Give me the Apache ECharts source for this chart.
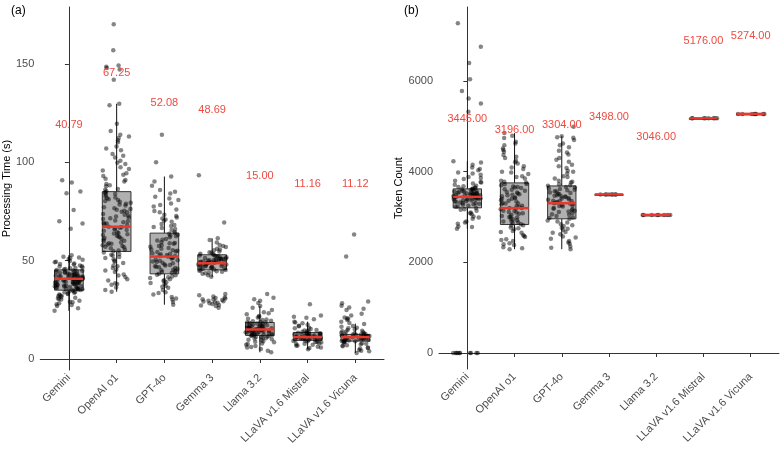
<!DOCTYPE html>
<html><head><meta charset="utf-8">
<script src="https://cdn.jsdelivr.net/npm/echarts@6/dist/echarts.min.js"></script>
<style>html,body{margin:0;padding:0;background:#fff}#c{width:780px;height:449px}</style>
</head><body><div id="c"></div>
<script>
// ---------- DATA ----------
const categories = ['Gemini','OpenAI o1','GPT-4o','Gemma 3','Llama 3.2','LLaVA v1.6 Mistral','LLaVA v1.6 Vicuna'];

// Panel (a): processing time (s) — box statistics
const timeLo  = [24.5, 34.2, 27.6, 41.8, 3.4, 4.9, 3.1];
const timeQ1  = [35.0, 54.7, 43.3, 45.3, 12.0, 9.5, 9.1];
const timeMed = [40.79, 67.25, 52.08, 48.69, 15.00, 11.16, 11.12];
const timeQ3  = [45.3, 85.1, 64.0, 53.0, 18.6, 13.5, 12.5];
const timeHi  = [52.8, 129.8, 92.8, 61.4, 26.9, 19.0, 18.0];
const timeTicks = [0, 50, 100, 150];

const timeGemini = [24.5,25.8,26.9,27.4,28.3,28.9,29.6,30.2,30.8,31.5,31.9,32.4,32.8,33.3,33.7,34.1,34.6,34.9,35.3,35.6,35.9,36.2,36.5,36.8,37.1,37.4,37.6,37.9,38.2,38.4,38.7,38.9,39.2,39.4,39.7,39.9,40.2,40.4,40.6,40.8,41.0,41.3,41.5,41.8,42.0,42.3,42.5,42.8,43.1,43.4,43.7,44.0,44.3,44.6,44.9,45.3,45.7,46.1,46.5,47.0,47.5,48.0,48.6,49.2,49.8,50.5,51.2,52.0,52.8,66.2,68.9,70.1,75.8,84.3,85.2,89.8,90.9,
  30.5,31.2,32.1,33.0,33.9,34.4,35.1,35.5,35.8,36.0,36.3,36.7,37.0,37.3,37.7,38.0,38.3,38.6,38.8,39.1,39.3,39.6,39.8,40.1,40.3,40.5,40.7,40.9,41.1,41.4,41.6,41.9,42.1,42.4,42.7,42.9,43.2,43.6,44.1,44.5,45.0,45.5,46.3,47.2,48.3,49.5,50.8,51.6,27.8,29.1];
const timeOpenAI = [34.2,35.1,36.4,37.8,38.5,39.9,40.6,41.7,43.0,44.2,45.5,46.3,47.6,48.8,49.5,50.7,51.9,52.6,53.4,54.1,54.8,55.6,56.3,57.1,57.8,58.6,59.3,60.1,60.8,61.5,62.3,63.0,63.8,64.5,65.2,66.0,66.7,67.3,68.1,68.9,69.6,70.4,71.2,72.0,72.9,73.7,74.6,75.4,76.3,77.2,78.1,79.0,79.9,80.8,81.7,82.6,83.5,84.4,85.3,86.5,87.8,89.0,90.3,91.6,93.0,94.4,95.9,97.5,99.1,100.8,102.5,104.3,106.2,108.1,110.2,112.4,114.0,116.0,119.6,129.0,129.8,142.0,147.2,148.0,148.6,149.3,157.0,170.2,
  38.1,42.4,45.0,47.1,49.9,51.3,53.0,55.2,56.8,58.2,59.9,61.1,62.7,64.1,65.6,67.0,68.5,70.0,71.6,73.3,74.9,76.7,78.5,80.3,82.1,83.9,86.1,88.4,91.0,93.7,96.6,99.8,103.4,107.1,111.3,113.2,58.9,63.4,66.3,69.2,72.4,75.9,79.4,81.2,84.8,57.4,61.9];
const timeGPT4o = [27.6,29.0,30.2,31.5,32.8,34.0,35.1,36.2,37.3,38.2,39.0,39.8,40.5,41.2,41.9,42.6,43.3,43.9,44.5,45.1,45.7,46.3,46.9,47.5,48.1,48.7,49.3,49.9,50.5,51.1,51.7,52.1,52.6,53.2,53.8,54.4,55.0,55.7,56.4,57.1,57.8,58.6,59.4,60.2,61.0,61.9,62.8,63.7,64.6,65.6,66.6,67.6,68.7,69.8,70.9,72.0,73.3,74.6,76.0,77.5,79.1,80.8,82.5,84.2,85.0,86.0,88.1,90.2,92.8,100.1,114.0,
  30.8,33.5,36.7,38.6,40.1,41.6,42.9,44.2,45.4,46.6,47.8,49.0,50.2,51.4,52.4,53.5,54.7,56.0,57.4,58.9,60.6,62.4,64.1,66.1,68.2,70.3,72.7,75.3,78.3,81.6,44.8,47.2,49.6,52.9,55.3,59.0,63.2,67.1,71.5];
const timeGemma = [26.1,26.9,27.5,28.0,28.4,28.8,29.2,29.6,30.0,30.4,30.8,31.3,31.8,32.4,33.1,41.8,42.6,43.3,43.9,44.4,44.9,45.3,45.7,46.1,46.5,46.9,47.3,47.6,47.9,48.2,48.5,48.7,49.0,49.3,49.6,49.9,50.2,50.5,50.8,51.1,51.4,51.8,52.2,52.6,53.0,53.5,54.0,54.6,55.3,56.1,57.0,58.0,59.2,60.5,61.4,69.4,93.4,
  27.2,28.6,29.4,30.2,31.0,43.6,44.6,45.5,46.3,47.1,47.7,48.1,48.4,48.9,49.1,49.5,49.8,50.1,50.4,50.7,51.0,51.6,52.0,52.4,53.3,54.3,55.7,57.5,45.1,46.7,48.0,49.4,50.9];
const timeLlama = [3.4,4.2,5.1,5.9,6.6,7.3,7.9,8.5,9.0,9.5,10.0,10.4,10.8,11.2,11.6,12.0,12.3,12.6,12.9,13.2,13.5,13.8,14.1,14.4,14.7,15.0,15.3,15.6,15.9,16.2,16.5,16.8,17.1,17.5,17.9,18.3,18.7,19.2,19.8,20.4,21.1,21.9,22.8,23.8,24.9,26.0,26.9,28.5,29.6,30.4,31.2,33.0,
  6.1,7.6,8.8,9.8,10.6,11.0,11.4,11.8,12.2,12.5,12.8,13.1,13.4,13.7,14.0,14.3,14.6,14.9,15.2,15.5,15.8,16.1,16.4,16.7,17.0,17.3,17.7,18.1,18.5,19.0,19.5,20.1,21.5,23.3,12.1,13.6,14.9,16.0];
const timeMistral = [4.9,5.6,6.2,6.7,7.2,7.6,8.0,8.4,8.7,9.0,9.3,9.6,9.9,10.2,10.4,10.7,10.9,11.1,11.3,11.5,11.8,12.0,12.3,12.6,12.9,13.2,13.5,13.9,14.3,14.8,15.3,15.9,16.6,17.4,18.2,19.0,20.2,21.0,22.1,27.9,
  5.8,6.9,7.8,8.6,9.2,9.7,10.1,10.5,10.8,11.0,11.2,11.4,11.6,11.9,12.1,12.4,12.7,13.0,13.4,13.8,14.5,15.6,16.9,18.6,21.5,9.4,10.6,11.7,12.2];
const timeVicuna = [3.1,3.9,4.6,5.3,5.9,6.5,7.0,7.5,8.0,8.4,8.8,9.1,9.4,9.7,10.0,10.3,10.6,10.9,11.1,11.4,11.7,12.0,12.3,12.6,12.9,13.3,13.8,14.4,15.1,15.9,16.8,17.8,19.0,19.8,20.3,21.1,23.0,24.9,26.2,27.1,28.3,29.2,52.1,63.3,
  4.2,5.6,6.8,7.8,8.6,9.2,9.6,9.9,10.2,10.5,10.8,11.0,11.3,11.6,11.9,12.2,12.5,12.8,13.1,13.6,14.1,14.8,15.6,16.4,18.3,20.7,22.1,25.6,9.0,10.4,11.5,12.4];

// Panel (b): token count — box statistics
const tokLo  = [2740, 2290, 2290, 3498, 3046, 5176, 5274];
const tokQ1  = [3202, 2835, 2960, 3498, 3046, 5176, 5274];
const tokMed = [3445, 3196, 3304, 3498, 3046, 5176, 5274];
const tokQ3  = [3620, 3752, 3685, 3498, 3046, 5176, 5274];
const tokHi  = [4230, 4850, 4780, 3498, 3046, 5176, 5274];
const tokTicks = [0, 2000, 4000, 6000];

// Panel (b): individual observations
const tokGemini = [0,0,0,0,0,0,0,0,0,0,2740,2790,2850,2900,2960,3010,3060,3100,3140,3170,3200,3225,3250,3270,3290,3310,3330,3350,3365,3380,3395,3410,3420,3430,3440,3450,3460,3470,3480,3490,3500,3510,3520,3535,3550,3565,3580,3600,3620,3640,3660,3680,3710,3740,3770,3800,3840,3880,3930,3980,4030,4090,4150,4230,5319,5501,5611,5780,6037,6396,6754,7275,
  2780,2880,2990,3080,3160,3230,3280,3320,3345,3372,3388,3402,3415,3425,3436,3446,3455,3465,3475,3485,3495,3505,3515,3528,3542,3558,3573,3590,3610,3630,3650,3690,3760,3860,3960,4060,4200,3300,3400,3500,3600];
const tokOpenAI = [2290,2330,2380,2420,2470,2510,2560,2600,2650,2690,2730,2770,2810,2840,2870,2900,2930,2960,2990,3020,3050,3080,3110,3140,3170,3196,3220,3250,3280,3310,3340,3370,3400,3430,3460,3490,3520,3550,3580,3610,3640,3670,3700,3730,3760,3800,3850,3900,3950,4000,4060,4120,4180,4240,4300,4370,4440,4510,4580,4660,4740,4850,
  2310,2400,2490,2580,2670,2750,2820,2880,2950,3010,3070,3130,3190,3240,3300,3360,3420,3480,3540,3600,3660,3720,3780,3880,3980,4090,4210,4330,4480,4620,4790,2900,3000,3100,3200,3300,3400,3500,3650];
const tokGPT4o = [2290,2350,2410,2470,2520,2570,2620,2670,2720,2760,2800,2840,2880,2920,2960,2990,3020,3050,3080,3110,3140,3170,3200,3230,3260,3290,3304,3330,3360,3390,3420,3450,3480,3510,3540,3570,3600,3630,3660,3690,3720,3760,3800,3850,3900,3960,4020,4080,4150,4220,4300,4380,4460,4540,4620,4700,4780,4760,4990,
  2320,2440,2550,2650,2740,2820,2900,2980,3060,3120,3180,3240,3290,3320,3350,3380,3410,3440,3470,3500,3530,3560,3590,3620,3650,3700,3780,3880,4000,4120,4260,4420,4580,4750,3150,3250,3350,3450];
const tokGemma = [3498,3498,3498,3498,3498,3498,3498,3498];
const tokLlama = [3046,3046,3046,3046,3046,3046,3046,3046];
const tokMistral = [5176,5176,5176,5176,5176,5176,5176,5176];
const tokVicuna = [5274,5274,5274,5274,5274,5274,5274,5274];

// ---------- BUILD ----------
const timePoints = [timeGemini,timeOpenAI,timeGPT4o,timeGemma,timeLlama,timeMistral,timeVicuna];
const tokPoints = [tokGemini,tokOpenAI,tokGPT4o,tokGemma,tokLlama,tokMistral,tokVicuna];
const FONT = '"Liberation Sans", Arial, sans-serif';
const RED = '#e8392e';
const catIdx = categories.map((_, i) => i);

// deterministic horizontal jitter (position only, values untouched)
function jitter(i, j){
  const s = Math.sin(i * 127.1 + j * 311.7) * 43758.5453;
  return (s - Math.floor(s) - 0.5) * 0.6;
}
function scatterData(pts){
  const out = [];
  pts.forEach((arr, i) => arr.forEach((v, j) => out.push([i + jitter(i, j), v])));
  return out;
}
function boxRender(params, api){
  const x = api.value(0);
  const lo = api.coord([x, api.value(1)]);
  const q1 = api.coord([x, api.value(2)]);
  const q3 = api.coord([x, api.value(4)]);
  const hi = api.coord([x, api.value(5)]);
  const w = api.size([0.6, 0])[0];
  return {type:'group', children:[
    {type:'line', shape:{x1:lo[0],y1:lo[1],x2:q1[0],y2:q1[1]}, style:{stroke:'#111',lineWidth:1}},
    {type:'line', shape:{x1:q3[0],y1:q3[1],x2:hi[0],y2:hi[1]}, style:{stroke:'#111',lineWidth:1}},
    {type:'rect', shape:{x:q3[0]-w/2, y:q3[1], width:w, height:Math.max(q1[1]-q3[1], 1)},
      style:{fill:'#b0b0b0', stroke:'#333', lineWidth:1}}
  ]};
}
function medRenderFactory(offset){
  return function(params, api){
    const x = api.value(0), m = api.value(1);
    const c = api.coord([x, m]);
    const t = api.coord([x, m + offset]);
    const w = api.size([0.6, 0])[0];
    return {type:'group', children:[
      {type:'line', shape:{x1:c[0]-w/2,y1:c[1],x2:c[0]+w/2,y2:c[1]}, style:{stroke:RED,lineWidth:2.5}},
      {type:'text', x:t[0], y:t[1], style:{text:m.toFixed(2), fill:'#ee4a40', font:'11px ' + FONT, align:'center', verticalAlign:'middle'}}
    ]};
  };
}
function xAxisCfg(g){
  return {type:'value', gridIndex:g, min:-0.6, max:6.6, splitLine:{show:false},
    axisLine:{show:true, lineStyle:{color:'#333', width:1}},
    axisTick:{show:true, customValues:catIdx, length:4, lineStyle:{color:'#333'}},
    axisLabel:{show:true, customValues:catIdx, formatter:v => categories[Math.round(v)], rotate:45,
      fontSize:11, color:'#4d4d4d', fontFamily:FONT, margin:6}};
}
function yAxisCfg(g, min, max, ticks, name, gap){
  return {type:'value', gridIndex:g, min:min, max:max, splitLine:{show:false},
    axisLine:{show:true, lineStyle:{color:'#333', width:1}},
    axisTick:{show:true, customValues:ticks, length:4, lineStyle:{color:'#333'}},
    axisLabel:{show:true, customValues:ticks, formatter:v => String(v), fontSize:11, color:'#4d4d4d', fontFamily:FONT, margin:6},
    name:name, nameLocation:'middle', nameGap:gap, nameTextStyle:{fontSize:11, color:'#000', fontFamily:FONT}};
}

const option = {
  animation:false,
  backgroundColor:'#fff',
  grid:[{left:37, top:7, width:347, height:363}, {left:439, top:7, width:340, height:362}],
  xAxis:[xAxisCfg(0), xAxisCfg(1)],
  yAxis:[yAxisCfg(0, -5.6, 179, timeTicks, 'Processing Time (s)', 24),
         yAxisCfg(1, -353, 7632, tokTicks, 'Token Count', 29)],
  graphic:[
    {type:'text', left:11, top:5, style:{text:'(a)', font:'12px ' + FONT, fill:'#000'}},
    {type:'text', left:404, top:5, style:{text:'(b)', font:'12px ' + FONT, fill:'#000'}}
  ],
  series:[
    {type:'custom', xAxisIndex:0, yAxisIndex:0, z:1, renderItem:boxRender,
     data:catIdx.map(i => [i, timeLo[i], timeQ1[i], timeMed[i], timeQ3[i], timeHi[i]]), encode:{x:0, y:[1,2,3,4,5]}},
    {type:'scatter', xAxisIndex:0, yAxisIndex:0, z:2, symbolSize:4.5, data:scatterData(timePoints),
     itemStyle:{color:'rgba(0,0,0,0.6)'}},
    {type:'custom', xAxisIndex:0, yAxisIndex:0, z:3, renderItem:medRenderFactory(78),
     data:catIdx.map(i => [i, timeMed[i]]), encode:{x:0, y:1}},
    {type:'custom', xAxisIndex:1, yAxisIndex:1, z:1, renderItem:boxRender,
     data:catIdx.map(i => [i, tokLo[i], tokQ1[i], tokMed[i], tokQ3[i], tokHi[i]]), encode:{x:0, y:[1,2,3,4,5]}},
    {type:'scatter', xAxisIndex:1, yAxisIndex:1, z:2, symbolSize:4.5, data:scatterData(tokPoints),
     itemStyle:{color:'rgba(0,0,0,0.6)'}},
    {type:'custom', xAxisIndex:1, yAxisIndex:1, z:3, renderItem:medRenderFactory(1715),
     data:catIdx.map(i => [i, tokMed[i]]), encode:{x:0, y:1}}
  ]
};
const chart = echarts.init(document.getElementById('c'), null, {renderer:'canvas'});
chart.setOption(option);
</script></body></html>
